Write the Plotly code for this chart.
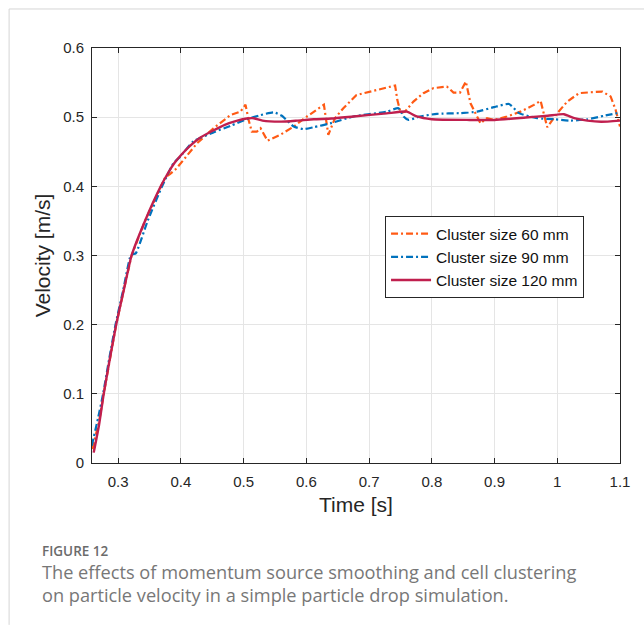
import plotly.graph_objects as go

# ---- data ----
t_60 = [0.259, 0.270, 0.277, 0.2866, 0.2968, 0.309, 0.3214, 0.3428, 0.3679, 0.375, 0.383, 0.392,
        0.404, 0.4255, 0.452, 0.479, 0.495, 0.503, 0.508, 0.513, 0.521, 0.527, 0.538, 0.5585,
        0.580, 0.601, 0.628, 0.635, 0.6457, 0.659, 0.680, 0.7016, 0.723, 0.7415, 0.745, 0.7505,
        0.7574, 0.7707, 0.7867, 0.8027, 0.824, 0.8346, 0.845, 0.8543, 0.8617, 0.8697, 0.8777,
        0.888, 0.899, 0.920, 0.9415, 0.9628, 0.9734, 0.984, 1.0, 1.016, 1.0346, 1.053, 1.0718,
        1.085, 1.093, 1.1]
v_60 = [0.020, 0.062, 0.100, 0.150, 0.200, 0.250, 0.300, 0.350, 0.400, 0.413, 0.418, 0.425,
        0.438, 0.462, 0.484, 0.503, 0.508, 0.518, 0.496, 0.479, 0.479, 0.484, 0.466, 0.4745,
        0.4865, 0.501, 0.518, 0.4745, 0.4986, 0.513, 0.532, 0.537, 0.542, 0.5458, 0.525, 0.5058,
        0.508, 0.5226, 0.5347, 0.542, 0.5443, 0.5356, 0.5356, 0.5515, 0.520, 0.5058, 0.491,
        0.4986, 0.496, 0.501, 0.508, 0.5178, 0.5236, 0.4855, 0.5058, 0.5226, 0.5347, 0.536, 0.537,
        0.530, 0.5106, 0.4865]

t_90 = [0.258, 0.268, 0.276, 0.2856, 0.2958, 0.308, 0.320, 0.3235, 0.328, 0.347, 0.370, 0.388,
        0.399, 0.420, 0.452, 0.479, 0.505, 0.527, 0.548, 0.561, 0.580, 0.596, 0.612, 0.638,
        0.675, 0.728, 0.7468, 0.755, 0.763, 0.781, 0.808, 0.845, 0.8723, 0.899, 0.923, 0.939,
        0.968, 0.9947, 1.021, 1.048, 1.0745, 1.1]
v_90 = [0.025, 0.065, 0.100, 0.150, 0.200, 0.250, 0.300, 0.302, 0.303, 0.350, 0.400, 0.433,
        0.443, 0.465, 0.478, 0.4875, 0.497, 0.503, 0.507, 0.502, 0.4865, 0.4827, 0.4855, 0.491,
        0.501, 0.508, 0.513, 0.501, 0.496, 0.501, 0.5048, 0.5058, 0.508, 0.5145, 0.519, 0.5058,
        0.4986, 0.497, 0.495, 0.497, 0.502, 0.5067]

t_120 = [0.261, 0.2695, 0.277, 0.2866, 0.2968, 0.309, 0.3214, 0.3428, 0.3679, 0.38, 0.39, 0.40,
         0.415, 0.43, 0.45, 0.47, 0.49, 0.505, 0.516, 0.53, 0.56, 0.585, 0.612, 0.64, 0.675,
         0.728, 0.76, 0.776, 0.80, 0.86, 0.90, 0.95, 0.985, 1.0106, 1.027, 1.048, 1.07, 1.1]
v_120 = [0.015, 0.055, 0.100, 0.150, 0.200, 0.250, 0.300, 0.350, 0.400, 0.420, 0.434, 0.445,
         0.459, 0.470, 0.480, 0.489, 0.495, 0.498, 0.4985, 0.495, 0.4935, 0.495, 0.497, 0.498,
         0.501, 0.5055, 0.508, 0.501, 0.497, 0.496, 0.496, 0.4995, 0.502, 0.5043, 0.4986, 0.495,
         0.4933, 0.495]

series_names = ["Cluster size 60 mm", "Cluster size 90 mm", "Cluster size 120 mm"]
x_ticks = [0.3, 0.4, 0.5, 0.6, 0.7, 0.8, 0.9, 1.0, 1.1]
x_tick_labels = ["0.3", "0.4", "0.5", "0.6", "0.7", "0.8", "0.9", "1", "1.1"]
y_ticks = [0, 0.1, 0.2, 0.3, 0.4, 0.5, 0.6]
y_tick_labels = ["0", "0.1", "0.2", "0.3", "0.4", "0.5", "0.6"]

FONT = "Liberation Sans, Arial, Helvetica, sans-serif"
ORANGE = "#FF5A14"
BLUE = "#0072BD"
RED = "#C01F4E"

fig = go.Figure()
fig.add_trace(go.Scatter(x=t_60, y=v_60, mode="lines", name=series_names[0],
                         line=dict(color=ORANGE, width=2.2, dash="7px,3px,2px,3px")))
fig.add_trace(go.Scatter(x=t_90, y=v_90, mode="lines", name=series_names[1],
                         line=dict(color=BLUE, width=2.2, dash="7px,3px,2px,3px",
                                   shape="spline", smoothing=0.5)))
fig.add_trace(go.Scatter(x=t_120, y=v_120, mode="lines", name=series_names[2],
                         line=dict(color=RED, width=2.4, shape="spline", smoothing=0.5)))

axis_common = dict(showgrid=True, gridcolor="#E5E5E5", gridwidth=1, zeroline=False,
                   showline=True, linecolor="#262626", linewidth=1, mirror="ticks",
                   ticks="inside", ticklen=5, tickcolor="#262626",
                   tickfont=dict(family=FONT, size=15, color="#262626"))

fig.update_xaxes(range=[0.2583, 1.1], tickvals=x_ticks, ticktext=x_tick_labels,
                 title=dict(text="Time [s]", font=dict(family=FONT, size=21, color="#262626"),
                            standoff=8),
                 ticklabelstandoff=5, **axis_common)
fig.update_yaxes(range=[0, 0.6], tickvals=y_ticks, ticktext=y_tick_labels,
                 title=dict(text="Velocity [m/s]", font=dict(family=FONT, size=21, color="#262626"),
                            standoff=6),
                 ticklabelstandoff=4, **axis_common)

fig.update_layout(
    width=644, height=625,
    margin=dict(l=92, r=24, t=48, b=162),
    paper_bgcolor="white", plot_bgcolor="white",
    showlegend=True,
    legend=dict(x=0.555, y=0.595, xanchor="left", yanchor="top",
                bordercolor="#262626", borderwidth=1, bgcolor="white",
                font=dict(family=FONT, size=15.5, color="#111111"),
                tracegroupgap=0, itemwidth=40),
    annotations=[
        dict(text="FIGURE 12", xref="paper", yref="paper", x=-0.098, y=-0.213,
             xanchor="left", yanchor="middle", showarrow=False,
             font=dict(family="Open Sans, sans-serif", size=13.5, color="#6B6B6B", weight=600)),
        dict(text="The effects of momentum source smoothing and cell clustering",
             xref="paper", yref="paper", x=-0.098, y=-0.2627, xanchor="left", yanchor="middle",
             showarrow=False, font=dict(family="Open Sans, sans-serif", size=18.2, color="#777777")),
        dict(text="on particle velocity in a simple particle drop simulation.",
             xref="paper", yref="paper", x=-0.098, y=-0.318, xanchor="left", yanchor="middle",
             showarrow=False, font=dict(family="Open Sans, sans-serif", size=18.2, color="#777777")),
    ],
    shapes=[
        dict(type="line", xref="paper", yref="paper", x0=-0.157, x1=-0.157, y0=1.094, y1=-0.39,
             line=dict(color="#D5D5D5", width=1)),
        dict(type="line", xref="paper", yref="paper", x0=-0.157, x1=1.05, y0=1.094, y1=1.094,
             line=dict(color="#D5D5D5", width=1)),
    ],
)

fig.write_html("out.html")
